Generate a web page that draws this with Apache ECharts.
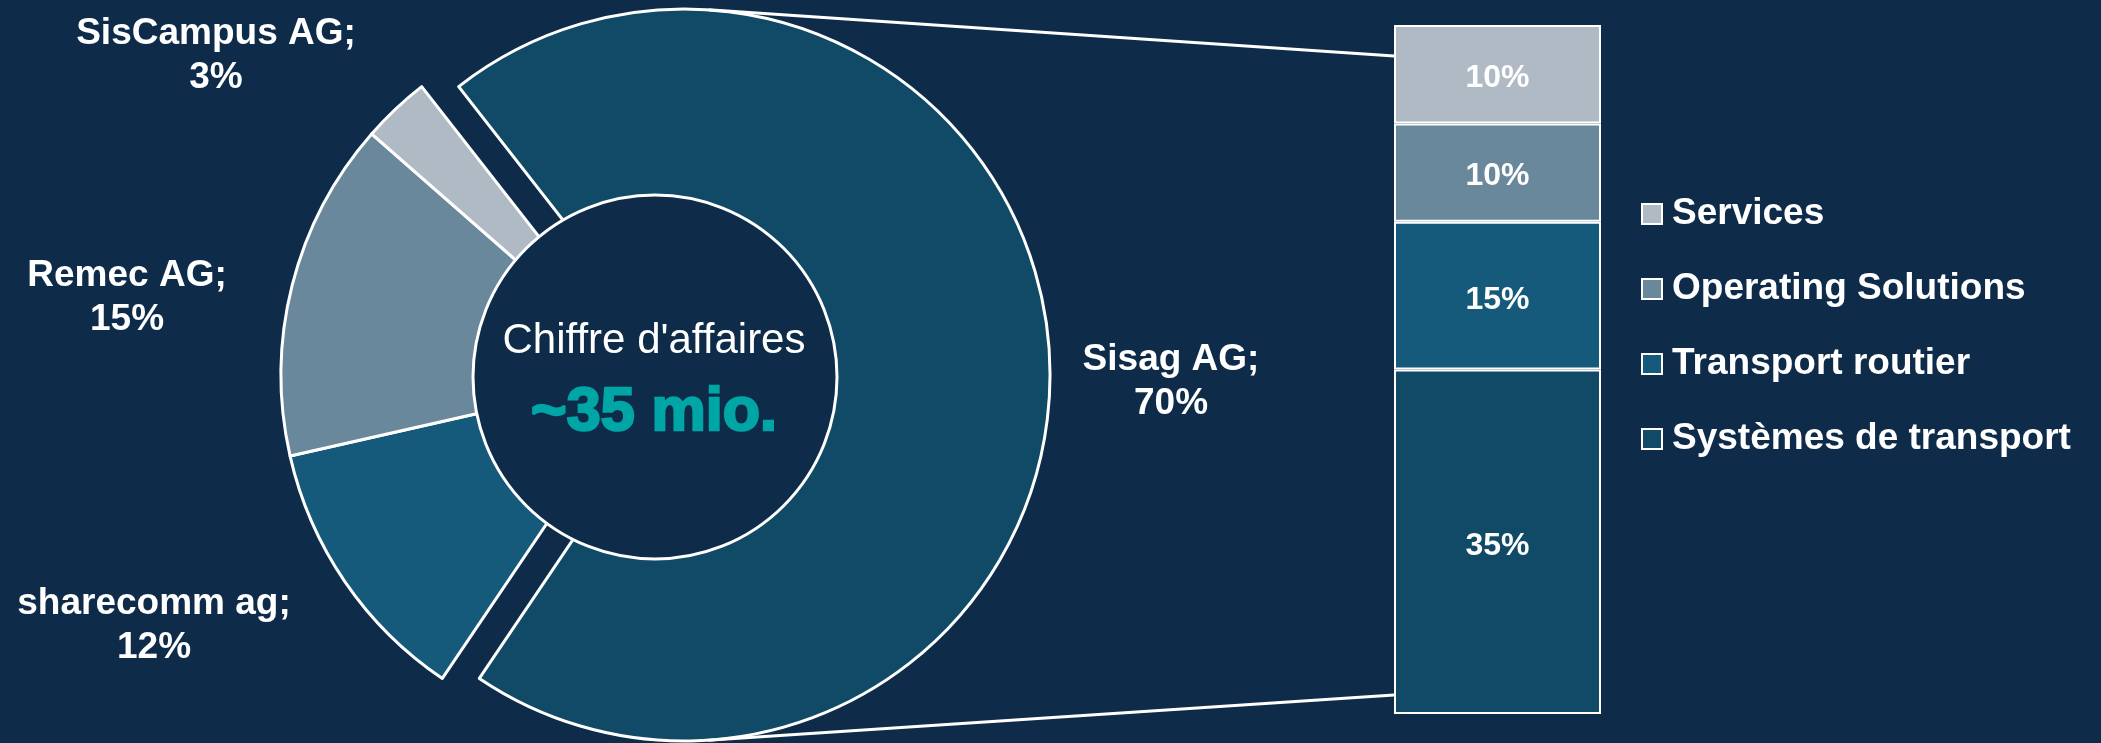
<!DOCTYPE html>
<html>
<head>
<meta charset="utf-8">
<title>Chiffre d'affaires</title>
<script src="https://cdn.jsdelivr.net/npm/echarts@6/dist/echarts.min.js"></script>
<style>
  html, body { margin: 0; padding: 0; background: #0E2C4A; }
  #main { width: 2101px; height: 743px; }
</style>
</head>
<body>
<div id="main"></div>
<script>
// companies (pie) - order is clockwise starting with Sisag
const companies = ['Sisag AG', 'sharecomm ag', 'Remec AG', 'SisCampus AG'];
const companyShares = [70, 12, 15, 3];

// Sisag segments (stacked bar, bottom to top)
const segments = ['Systèmes de transport', 'Transport routier', 'Operating Solutions', 'Services'];
const segmentShares = [35, 15, 10, 10];

const centerTitle = "Chiffre d'affaires";
const centerValue = '~35 mio.';

var chartDom = document.getElementById('main');
var myChart = echarts.init(chartDom, null, { renderer: 'canvas' });
var option;

const bg = '#0E2C4A';
const companyColors = ['#114A66', '#155A7A', '#6A889C', '#B0BAC4'];
const segmentColors = ['#114A66', '#155A7A', '#6A889C', '#B0BAC4'];
const font = "'Liberation Sans', Arial, sans-serif";

// layout
const pieCenter = [647, 375];
const pieRadius = 366;
const explode = 37;      // the first slice is pulled out to the right
const tilt = 2;          // first slice is centred a little above 3 o'clock
const holeCenter = [655, 377];
const holeRadius = 182;
const barLeft = 1394, barRight = 1601, barTop = 25, barBottom = 714;
const connectorY = [56, 695];
// label anchors for the pie (same order as companies)
const labelSpots = [[1171, 382], [154, 626], [127, 298], [216, 56]];

const total = companyShares.reduce((a, b) => a + b, 0);

// tangent point from the exploded slice circle to the bar edge
function tangent(px, py, upper) {
    var cx = pieCenter[0] + explode, cy = pieCenter[1];
    var dx = px - cx, dy = py - cy;
    var d = Math.sqrt(dx * dx + dy * dy);
    var th = Math.atan2(dy, dx);
    var a = Math.acos(pieRadius / d);
    var t = upper ? th - a : th + a;
    return [cx + pieRadius * Math.cos(t), cy + pieRadius * Math.sin(t)];
}

// one pie per group: 'main' draws the pulled-out first slice, 'rest' the others
function pieSeries(group) {
    return {
        name: 'Chiffre ' + group,
        type: 'pie',
        center: group === 'main' ? [pieCenter[0] + explode, pieCenter[1]] : pieCenter,
        radius: pieRadius,
        startAngle: companyShares[0] / total * 180 + tilt,
        clockwise: true,
        silent: true,
        z: 2,
        label: {
            show: true,
            position: 'outside',
            formatter: '{b};\n{c}%',
            color: '#fff',
            fontSize: 37,
            fontWeight: 'bold',
            fontFamily: font,
            lineHeight: 44,
            align: 'center'
        },
        labelLine: { show: false },
        labelLayout: function (p) {
            var s = labelSpots[p.dataIndex];
            return { x: s[0], y: s[1], align: 'center', verticalAlign: 'middle' };
        },
        data: companies.map(function (n, i) {
            var visible = (i === 0) === (group === 'main');
            return {
                name: n,
                value: companyShares[i],
                itemStyle: visible
                    ? { color: companyColors[i], borderColor: '#fff', borderWidth: 3 }
                    : { color: 'rgba(0,0,0,0)', borderWidth: 0 },
                label: { show: visible }
            };
        })
    };
}

option = {
    backgroundColor: bg,
    animation: false,
    textStyle: { fontFamily: font },
    legend: {
        data: segments.slice().reverse(),
        orient: 'vertical',
        left: 1636,
        top: 189,
        icon: 'rect',
        itemWidth: 20,
        itemHeight: 20,
        itemGap: 35,
        selectedMode: false,
        itemStyle: { borderColor: '#fff', borderWidth: 2 },
        textStyle: {
            color: '#fff',
            fontSize: 37,
            fontWeight: 'bold',
            fontFamily: font,
            lineHeight: 40,
            padding: [0, 0, 0, 5]
        }
    },
    grid: {
        left: barLeft,
        right: 2101 - barRight,
        top: barTop,
        bottom: 743 - barBottom
    },
    xAxis: { type: 'category', data: [''], show: false },
    yAxis: { type: 'value', min: 0, max: segmentShares.reduce((a, b) => a + b, 0), show: false },
    series: [pieSeries('rest'), pieSeries('main')].concat(segments.map(function (s, i) {
        return {
            name: s,
            type: 'bar',
            stack: 'sisag',
            barWidth: '100%',
            silent: true,
            data: [segmentShares[i]],
            itemStyle: { color: segmentColors[i], borderColor: '#fff', borderWidth: 2 },
            label: {
                show: true,
                position: 'inside',
                offset: [0, 4],
                formatter: '{c}%',
                color: '#fff',
                fontSize: 32,
                fontWeight: 'bold',
                fontFamily: font
            }
        };
    })),
    graphic: [
        {
            type: 'polyline',
            z: 100,
            shape: { points: [tangent(barLeft, connectorY[0], true), [barLeft, connectorY[0]]] },
            style: { stroke: '#fff', lineWidth: 3, fill: null }
        },
        {
            type: 'polyline',
            z: 100,
            shape: { points: [tangent(barLeft, connectorY[1], false), [barLeft, connectorY[1]]] },
            style: { stroke: '#fff', lineWidth: 3, fill: null }
        },
        {
            type: 'circle',
            z: 100,
            shape: { cx: holeCenter[0], cy: holeCenter[1], r: holeRadius },
            style: { fill: bg, stroke: '#fff', lineWidth: 3 }
        },
        {
            type: 'text',
            z: 101,
            x: holeCenter[0] - 1,
            y: 341,
            style: {
                text: centerTitle,
                fill: '#fff',
                font: '42px ' + font,
                align: 'center',
                verticalAlign: 'middle'
            }
        },
        {
            type: 'text',
            z: 101,
            x: holeCenter[0] - 1,
            y: 413,
            style: {
                text: centerValue,
                fill: '#00A6A6',
                stroke: '#00A6A6',
                lineWidth: 2.5,
                font: 'bold 61px ' + font,
                align: 'center',
                verticalAlign: 'middle'
            }
        }
    ]
};

option && myChart.setOption(option);
</script>
</body>
</html>
